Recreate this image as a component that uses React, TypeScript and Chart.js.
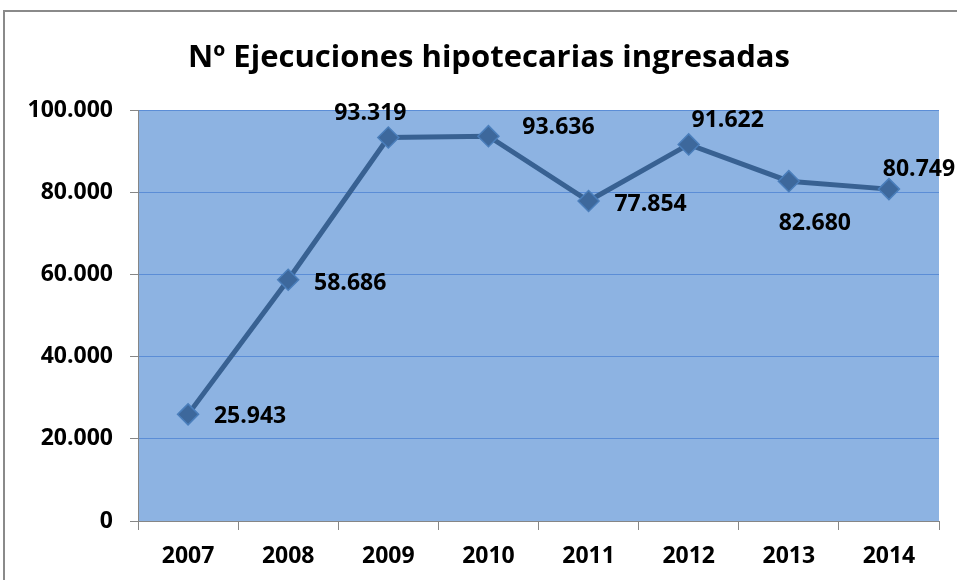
import React, { useEffect, useRef } from "react";
import { Chart, registerables } from "chart.js";

Chart.register(...registerables);

const years = ["2007", "2008", "2009", "2010", "2011", "2012", "2013", "2014"];
const ejecuciones = [25943, 58686, 93319, 93636, 77854, 91622, 82680, 80749];
const titleText = "Nº Ejecuciones hipotecarias ingresadas";
const yMin = 0;
const yMax = 100000;
const yStep = 20000;

// label placement relative to each point (dx, dy of text centre)
const labelOffsets: [number, number][] = [
  [62, 1],
  [62, 2],
  [-18, -25],
  [70, -10],
  [62, 2],
  [39, -25],
  [26, 41],
  [30, -21],
];

const FONT = '"Open Sans", "DejaVu Sans", sans-serif';
const PLOT_BG = "#8DB3E2";
const GRID = "#5B8DD6";
const AXIS = "#868686";
const LINE = "#386192";

function fmt(v: number): string {
  return String(Math.round(v)).replace(/\B(?=(\d{3})+(?!\d))/g, ".");
}

const decorPlugin = {
  id: "decor",
  beforeDraw(chart: any) {
    const { ctx, chartArea, width, height } = chart;
    ctx.save();
    ctx.fillStyle = "#ffffff";
    ctx.fillRect(0, 0, width, height);
    // outer frame (top + left)
    ctx.strokeStyle = "#8a8a8a";
    ctx.lineWidth = 2;
    ctx.beginPath();
    ctx.moveTo(width, 11);
    ctx.lineTo(4, 11);
    ctx.lineTo(4, height);
    ctx.stroke();
    // plot area
    ctx.fillStyle = PLOT_BG;
    ctx.fillRect(chartArea.left, chartArea.top, chartArea.right - chartArea.left, chartArea.bottom - chartArea.top);
    ctx.restore();
  },
  afterDatasetsDraw(chart: any) {
    const { ctx } = chart;
    const meta = chart.getDatasetMeta(0);
    ctx.save();
    // title
    ctx.fillStyle = "#000";
    ctx.font = `bold 31px ${FONT}`;
    ctx.textAlign = "center";
    ctx.textBaseline = "alphabetic";
    ctx.fillText(titleText, 489, 67);
    // data labels
    ctx.font = `bold 23px ${FONT}`;
    meta.data.forEach((pt: any, i: number) => {
      const [dx, dy] = labelOffsets[i] || [0, -20];
      ctx.fillText(fmt(ejecuciones[i]), pt.x + dx, pt.y + dy + 8);
    });
    ctx.restore();
  },
};

export default function App() {
  const ref = useRef<HTMLCanvasElement | null>(null);
  useEffect(() => {
    if (!ref.current) return;
    const chart = new Chart(ref.current, {
      type: "line",
      data: {
        labels: years,
        datasets: [
          {
            data: ejecuciones,
            borderColor: LINE,
            borderWidth: 5,
            pointStyle: "rectRot",
            pointRadius: 10.5,
            pointBackgroundColor: "#3D689C",
            pointBorderColor: "#4A7EBB",
            pointBorderWidth: 1.5,
            tension: 0,
            clip: false as any,
          },
        ],
      },
      options: {
        animation: false,
        responsive: false,
        devicePixelRatio: 1,
        layout: { padding: { left: 0, top: 110, right: 18, bottom: 0 } },
        plugins: {
          legend: { display: false },
          tooltip: { enabled: false },
          title: { display: false },
        },
        scales: {
          x: {
            offset: true,
            afterFit: (s: any) => {
              s.height = 59;
            },
            grid: {
              drawOnChartArea: false,
              drawTicks: true,
              tickLength: 9,
              color: AXIS,
              tickColor: AXIS,
              offset: true,
            },
            border: { color: AXIS, width: 1 },
            ticks: {
              color: "#000",
              font: { family: FONT, size: 23, weight: "bold" },
              padding: 13,
              autoSkip: false,
              maxRotation: 0,
            },
          },
          y: {
            min: yMin,
            max: yMax,
            afterFit: (s: any) => {
              s.width = 138;
            },
            grid: {
              color: GRID,
              tickColor: AXIS,
              tickLength: 8,
              lineWidth: 1,
            },
            border: { color: AXIS, width: 1 },
            ticks: {
              stepSize: yStep,
              color: "#000",
              font: { family: FONT, size: 23, weight: "bold" },
              padding: 17,
              callback: (v: any) => fmt(Number(v)),
            },
          },
        },
      },
      plugins: [decorPlugin],
    });
    return () => chart.destroy();
  }, []);
  return (
    <div style={{ position: "absolute", left: 0, top: 0, width: 957, height: 580 }}>
      <canvas ref={ref} width={957} height={580} style={{ width: 957, height: 580 }} />
    </div>
  );
}
